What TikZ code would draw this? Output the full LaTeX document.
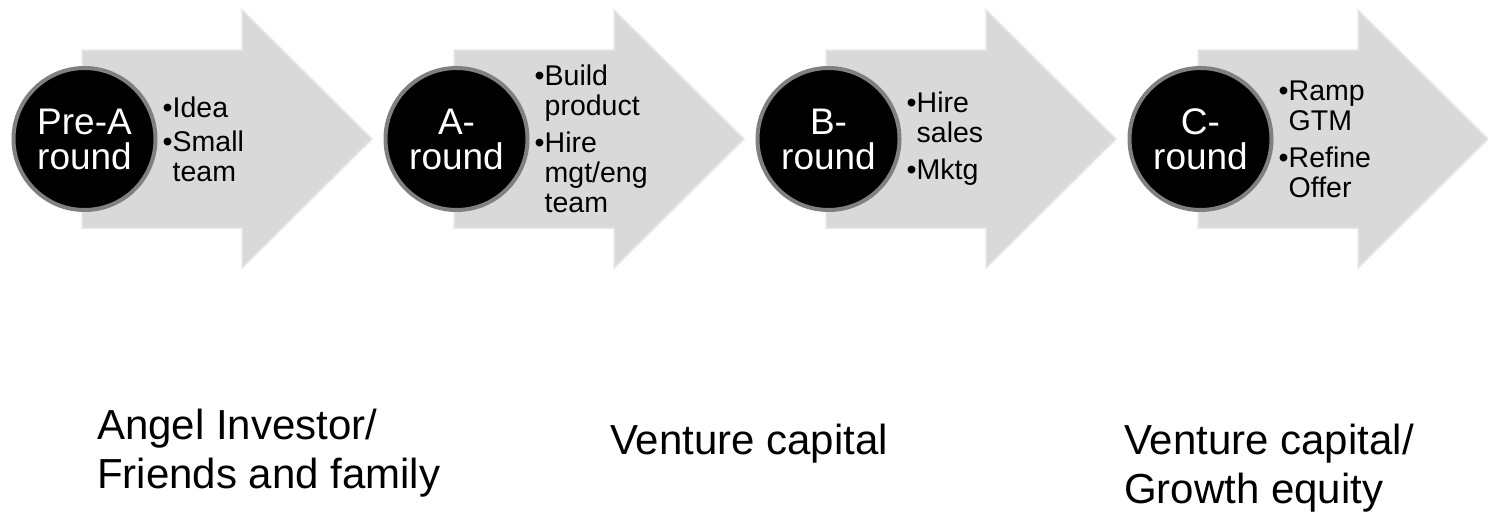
\documentclass[tikz,border=0pt]{standalone}
\usepackage{fontspec}
\setmainfont{Liberation Sans}
\usetikzlibrary{positioning}

\definecolor{arrowfill}{RGB}{217,217,217}
\definecolor{arrowedge}{RGB}{230,230,230}
\definecolor{ringgray}{RGB}{128,128,128}

% indent for the second line of a bullet
\newcommand{\bul}{\hphantom{•}}

\tikzset{
  stagearrow/.style={fill=arrowfill, draw=arrowedge, line width=1.5pt, line join=miter},
  roundcircle/.style={circle, fill=black, draw=ringgray, line width=4pt, minimum size=142pt,
    inner sep=0pt, text=white, align=center, font=\fontsize{37}{35}\selectfont},
  itemtext/.style={align=left, inner sep=0pt, font=\fontsize{28.5}{30}\selectfont},
  investor/.style={anchor=north west, align=left, inner sep=0pt, font=\fontsize{42}{49}\selectfont}
}

\begin{document}
\begin{tikzpicture}[x=1pt,y=-1pt]
\useasboundingbox (0,0) rectangle (1488,514);

% the four big arrows
\filldraw [stagearrow] (82,50) -- (242,50) -- (242,10) -- (372,139) -- (242,268) -- (242,228) -- (82,228) -- cycle;
\filldraw [stagearrow] (454,50) -- (614,50) -- (614,10) -- (744,139) -- (614,268) -- (614,228) -- (454,228) -- cycle;
\filldraw [stagearrow] (826,50) -- (986,50) -- (986,10) -- (1116,139) -- (986,268) -- (986,228) -- (826,228) -- cycle;
\filldraw [stagearrow] (1198,50) -- (1358,50) -- (1358,10) -- (1488,139) -- (1358,268) -- (1358,228) -- (1198,228) -- cycle;

% funding rounds
\node [roundcircle] (pre) at (84.5,139) {Pre-A\\round};
\node [roundcircle] (around) at (456.5,139) {A-\\round};
\node [roundcircle] (bround) at (828.5,139) {B-\\round};
\node [roundcircle] (cround) at (1200.5,139) {C-\\round};

% what each round pays for
\node [itemtext, right=5pt of pre] (preitems) {•Idea\\[4pt]•Small\\\bul team};
\node [itemtext, right=5pt of around] (aitems) {•Build\\\bul product\\[7pt]•Hire\\\bul mgt/eng\\\bul team};
\node [itemtext, right=5pt of bround] (bitems) {•Hire\\\bul sales\\[7pt]•Mktg};
\node [itemtext, right=5pt of cround] (citems) {•Ramp\\\bul GTM\\[7pt]•Refine\\\bul Offer};

% who invests
\node [investor] (angel) at (97,409) {Angel Investor/\\Friends and family};
\node [investor] (vc) at (610,424) {Venture capital};
\node [investor] (growth) at (1124,424) {Venture capital/\\Growth equity};
\end{tikzpicture}
\end{document}
